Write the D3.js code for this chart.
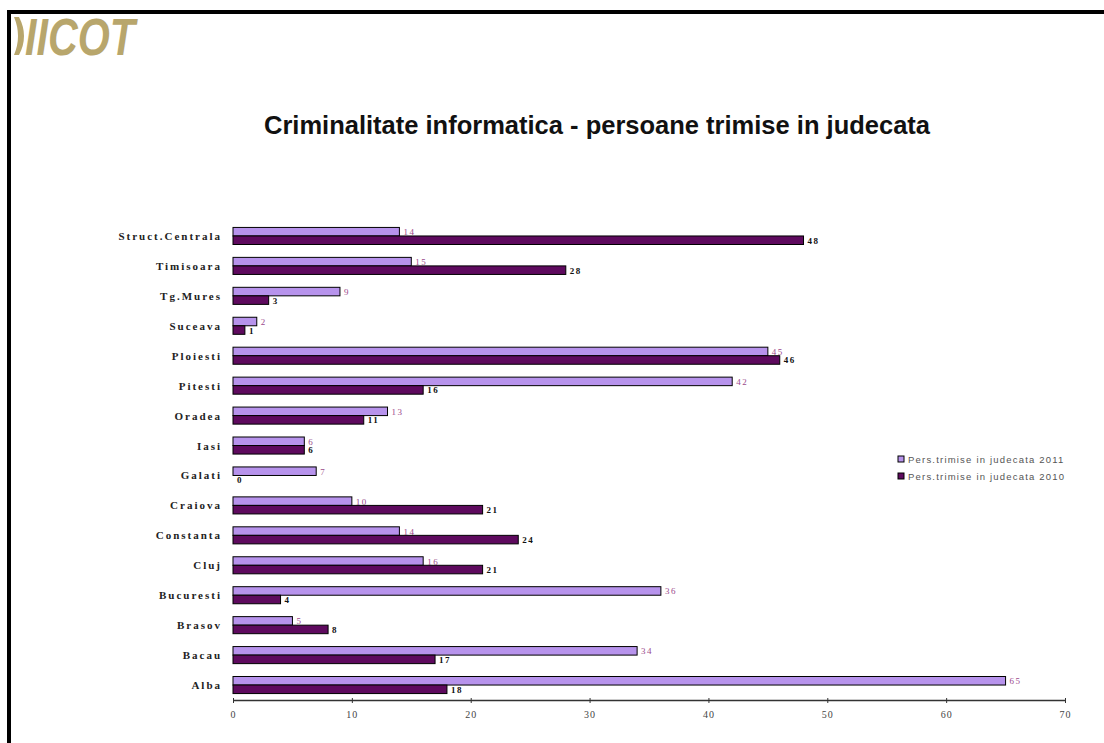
<!DOCTYPE html>
<html>
<head>
<meta charset="utf-8">
<script src="https://cdn.jsdelivr.net/npm/d3@7"></script>
<style>
  body { margin: 0; background: #fff; }
  svg { display: block; }
</style>
</head>
<body>
<div id="chart"></div>
<script>
// data, top to bottom
const regions = ["Struct.Centrala", "Timisoara", "Tg.Mures", "Suceava", "Ploiesti", "Pitesti",
    "Oradea", "Iasi", "Galati", "Craiova", "Constanta", "Cluj", "Bucuresti", "Brasov", "Bacau", "Alba"];
const values2011 = [14, 15, 9, 2, 45, 42, 13, 6, 7, 10, 14, 16, 36, 5, 34, 65];
const values2010 = [48, 28, 3, 1, 46, 16, 11, 6, 0, 21, 24, 21, 4, 8, 17, 18];
const seriesNames = ["Pers.trimise in judecata 2011", "Pers.trimise in judecata 2010"];
const xTicks = [0, 10, 20, 30, 40, 50, 60, 70];

const W = 1104, H = 743;
const colors = ["#b793ec", "#5e0a5e"];
const labelColors = ["#9b4a8c", "#111"];
const serif = "Liberation Serif, Times New Roman, serif";
const sans = "Liberation Sans, Arial, sans-serif";

let svg = d3.select("#chart").append("svg")
    .attr("width", W)
    .attr("height", H);

// frame
svg.append("rect").attr("x", 7).attr("y", 10).attr("width", W - 7).attr("height", 4).attr("fill", "#000");
svg.append("rect").attr("x", 7).attr("y", 10).attr("width", 4).attr("height", H - 10).attr("fill", "#000");

// logo: the first letter is cut by the frame, so only its curved half shows
let logoColor = "#b8a66c";
svg.append("path")
    .attr("d", "M14,17 L19,17 Q29,36 19,55 L14,55 Q22,36 14,17 Z")
    .attr("fill", logoColor);
svg.append("text")
    .attr("x", 25)
    .attr("y", 55)
    .attr("textLength", 110)
    .attr("lengthAdjust", "spacingAndGlyphs")
    .style("font-family", sans)
    .style("font-weight", "bold")
    .style("font-style", "italic")
    .style("font-size", "52px")
    .style("fill", logoColor)
    .text("IICOT");

// title
svg.append("text")
    .attr("x", 597)
    .attr("y", 134)
    .attr("text-anchor", "middle")
    .style("font-family", sans)
    .style("font-size", "25.5px")
    .style("font-weight", "bold")
    .style("fill", "#111")
    .text("Criminalitate informatica - persoane trimise in judecata");

// scales
let x = d3.scaleLinear().domain([0, 70]).range([233, 1065]);
let y = d3.scaleBand().domain(regions).range([221, 700]).paddingInner(0.43).paddingOuter(0.215);
let ySub = d3.scaleBand().domain([0, 1]).range([0, y.bandwidth()]);

let rows = regions.map((r, i) => ({ region: r, vals: [values2011[i], values2010[i]] }));

let groups = svg.selectAll(".row")
    .data(rows)
    .enter().append("g")
    .attr("class", "row")
    .attr("transform", d => `translate(0,${y(d.region)})`);

groups.selectAll("rect")
    .data(d => d.vals.map((v, k) => ({ v: v, k: k })))
    .enter().append("rect")
    .attr("x", x(0))
    .attr("y", d => ySub(d.k))
    .attr("width", d => Math.max(0, x(d.v) - x(0)))
    .attr("height", ySub.bandwidth())
    .attr("fill", d => colors[d.k])
    .attr("stroke", "#000")
    .attr("stroke-width", d => d.v > 0 ? 1 : 0);

groups.selectAll("text.val")
    .data(d => d.vals.map((v, k) => ({ v: v, k: k })))
    .enter().append("text")
    .attr("class", "val")
    .attr("x", d => x(d.v) + 4)
    .attr("y", d => ySub(d.k) + ySub.bandwidth() / 2 + 3.5)
    .style("font-family", serif)
    .style("font-size", "9px")
    .style("letter-spacing", "1.5px")
    .style("font-weight", d => d.k === 1 ? "bold" : "normal")
    .style("fill", d => labelColors[d.k])
    .text(d => d.v);

// category labels
groups.append("text")
    .attr("x", 222)
    .attr("y", y.bandwidth() / 2 + 4)
    .attr("text-anchor", "end")
    .style("font-family", serif)
    .style("font-size", "11px")
    .style("letter-spacing", "2px")
    .style("font-weight", "bold")
    .style("fill", "#222")
    .text(d => d.region);

// x axis
let xAxis = d3.axisBottom(x).tickValues(xTicks).tickSize(3).tickSizeOuter(0);
let ax = svg.append("g")
    .attr("transform", "translate(0,700)")
    .call(xAxis);
ax.select(".domain").attr("stroke", "#333").attr("stroke-width", 1.5);
ax.selectAll(".tick line").attr("y1", -2).attr("stroke", "#333");
ax.selectAll(".tick text")
    .attr("dy", "1.2em")
    .style("font-family", serif)
    .style("font-size", "10px")
    .style("letter-spacing", "1px")
    .style("fill", "#444");

// legend
let legend = svg.selectAll(".legend")
    .data(seriesNames)
    .enter().append("g")
    .attr("class", "legend")
    .attr("transform", (d, i) => `translate(898,${456 + i * 17})`);

legend.append("rect")
    .attr("width", 6)
    .attr("height", 6)
    .attr("fill", (d, i) => colors[i])
    .attr("stroke", "#000");

legend.append("text")
    .attr("x", 10)
    .attr("y", 6.5)
    .style("font-family", sans)
    .style("font-size", "9.5px")
    .style("letter-spacing", "1.2px")
    .style("fill", "#555")
    .text(d => d);
</script>
</body>
</html>
